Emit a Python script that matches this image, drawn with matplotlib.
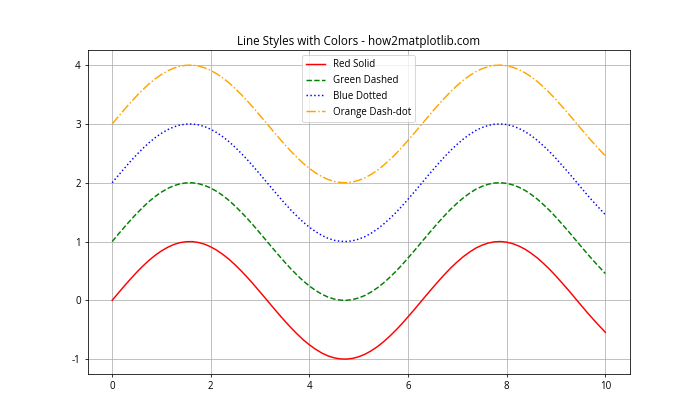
"""Line styles with colors: four offset sine curves."""

import matplotlib

matplotlib.use("Agg")
import matplotlib.pyplot as plt

plt.rcParams["font.family"] = ["Open Sans", "DejaVu Sans"]
plt.rcParams["axes.unicode_minus"] = False

# values, x step 0.125
x = [i * 0.125 for i in range(81)]
base = [
    0.000, 0.125, 0.247, 0.366, 0.479, 0.585, 0.682, 0.768, 0.841, 0.902,
    0.949, 0.981, 0.997, 0.999, 0.984, 0.954, 0.909, 0.850, 0.778, 0.694,
    0.598, 0.493, 0.382, 0.264, 0.141, 0.017, -0.108, -0.231, -0.351, -0.465,
    -0.572, -0.671, -0.757, -0.832, -0.895, -0.944, -0.978, -0.996, -0.999, -0.987,
    -0.959, -0.917, -0.859, -0.789, -0.706, -0.612, -0.510, -0.399, -0.279, -0.158,
    -0.033, 0.092, 0.215, 0.335, 0.450, 0.559, 0.657, 0.746, 0.823, 0.889,
    0.938, 0.974, 0.995, 1.000, 0.989, 0.963, 0.922, 0.868, 0.798, 0.718,
    0.624, 0.523, 0.412, 0.294, 0.175, 0.050, -0.075, -0.199, -0.318, -0.432,
    -0.544,
]
offsets = [0, 1, 2, 3]
labels = ["Red Solid", "Green Dashed", "Blue Dotted", "Orange Dash-dot"]
colors = ["red", "green", "blue", "orange"]
styles = ["-", "--", ":", "-."]

fig, ax = plt.subplots(figsize=(10, 6), dpi=70)
for off, lab, col, ls in zip(offsets, labels, colors, styles):
    ax.plot(x, [v + off for v in base], color=col, linestyle=ls, label=lab)

ax.set_title("Line Styles with Colors - how2matplotlib.com")
ax.legend(loc="upper center")
ax.grid(True)
fig.savefig("out.png", dpi=70)
